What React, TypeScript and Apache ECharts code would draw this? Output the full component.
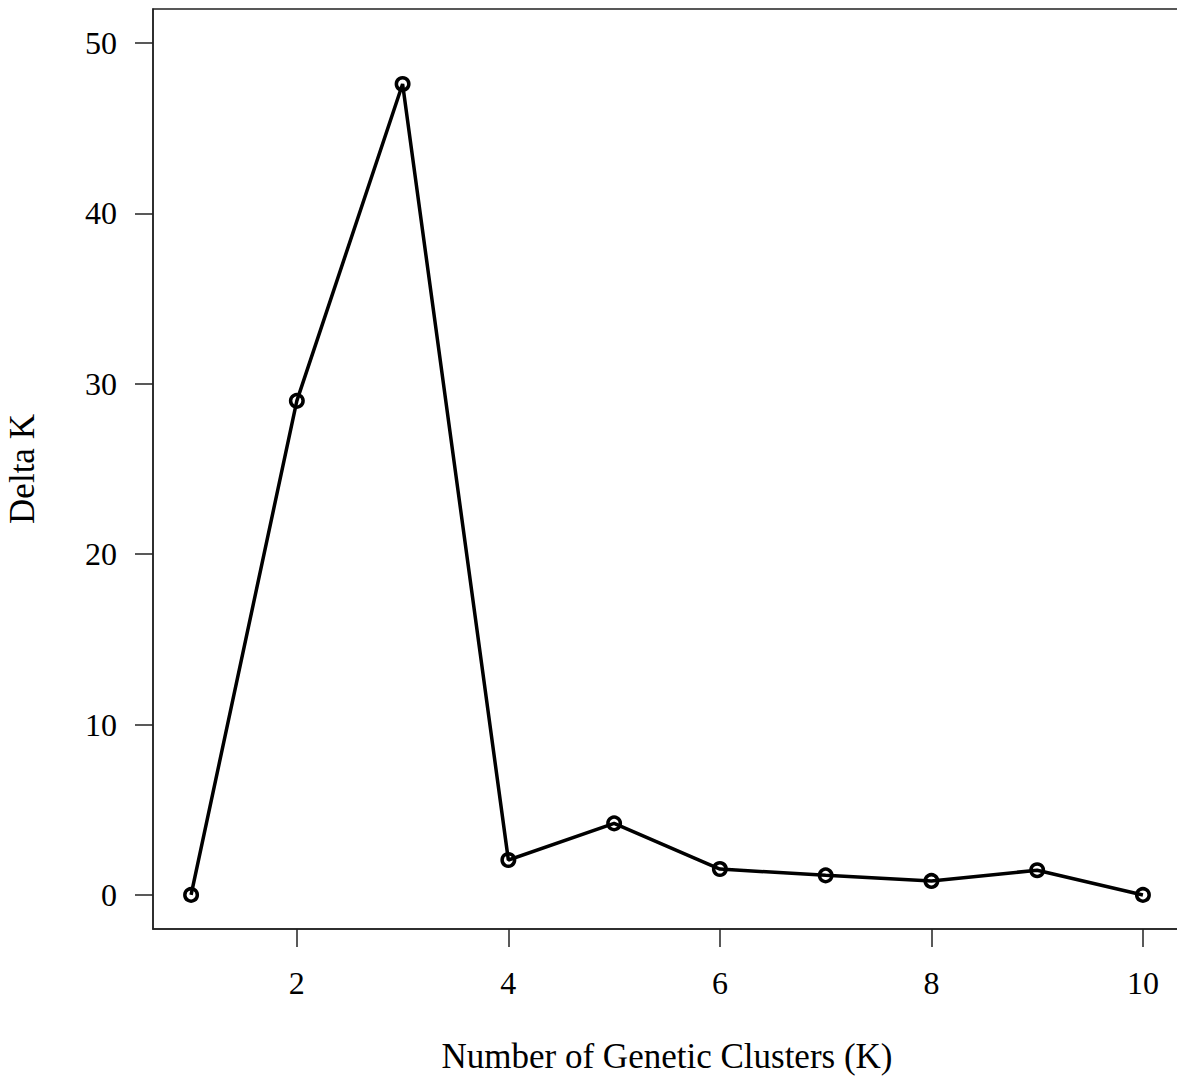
import React, { useEffect, useRef } from "react";
import * as echarts from "echarts";

const clusters = [1, 2, 3, 4, 5, 6, 7, 8, 9, 10];
const deltaK = [0, 29.0, 47.6, 2.05, 4.2, 1.52, 1.15, 0.82, 1.45, 0];
const xTicks = [2, 4, 6, 8, 10];
const yTicks = [0, 10, 20, 30, 40, 50];

const FONT = "'Liberation Serif', 'DejaVu Serif', serif";

export default function App() {
  const ref = useRef<HTMLDivElement>(null);
  useEffect(() => {
    document.body.style.margin = "0";
    const chart = echarts.init(ref.current!, undefined, { renderer: "svg" });
    chart.setOption({
      animation: false,
      backgroundColor: "#ffffff",
      grid: {
        left: 153,
        top: 9,
        width: 1028,
        height: 920,
        show: true,
        borderColor: "#222",
        borderWidth: 1.5,
        backgroundColor: "transparent",
        outerBoundsMode: "none",
        containLabel: false,
      },
      xAxis: {
        type: "value",
        min: 0.64,
        max: 10.36,
        name: "Number of Genetic Clusters (K)",
        nameLocation: "middle",
        nameGap: 110,
        nameTextStyle: { fontFamily: FONT, fontSize: 35, color: "#000" },
        splitLine: { show: false },
        axisLine: { show: true, onZero: false, lineStyle: { color: "#222", width: 1.5 } },
        axisTick: {
          show: true,
          inside: false,
          length: 18,
          customValues: xTicks,
          lineStyle: { color: "#222", width: 1.5 },
        },
        axisLabel: {
          customValues: xTicks,
          margin: 38,
          fontFamily: FONT,
          fontSize: 32,
          color: "#000",
        },
      },
      yAxis: {
        type: "value",
        min: -2,
        max: 52,
        name: "Delta K",
        nameLocation: "middle",
        nameGap: 113,
        nameRotate: 90,
        nameTextStyle: { fontFamily: FONT, fontSize: 35, color: "#000" },
        splitLine: { show: false },
        axisLine: { show: true, onZero: false, lineStyle: { color: "#222", width: 1.5 } },
        axisTick: {
          show: true,
          inside: false,
          length: 18,
          customValues: yTicks,
          lineStyle: { color: "#222", width: 1.5 },
        },
        axisLabel: {
          customValues: yTicks,
          margin: 36,
          fontFamily: FONT,
          fontSize: 32,
          color: "#000",
        },
      },
      series: [
        {
          type: "line",
          data: clusters.map((k, i) => [k, deltaK[i]]),
          symbol: "circle",
          symbolSize: 12.5,
          showAllSymbol: true,
          lineStyle: { color: "#000", width: 3.5 },
          itemStyle: { color: "rgba(0,0,0,0)", borderColor: "#000", borderWidth: 3.5 },
          clip: false,
        },
      ],
    });
    return () => chart.dispose();
  }, []);
  return <div ref={ref} style={{ width: 1177, height: 1078 }} />;
}
